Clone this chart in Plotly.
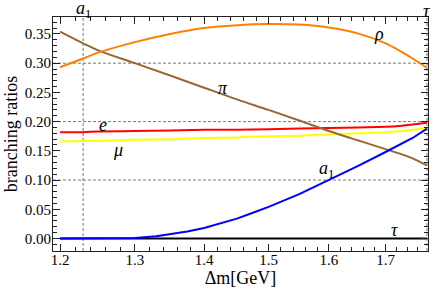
import math
import plotly.graph_objects as go

# Δm grid (GeV) and branching ratios
dm = [1.20, 1.23, 1.25, 1.30, 1.35, 1.40, 1.45, 1.50, 1.55, 1.60, 1.65, 1.70, 1.73, 1.75, 1.777]
br_rho = [0.293, 0.308, 0.318, 0.336, 0.350, 0.360, 0.365, 0.367, 0.366, 0.361, 0.351, 0.334, 0.319, 0.308, 0.292]
br_pi = [0.354, 0.334, 0.322, 0.300, 0.279, 0.258, 0.238, 0.220, 0.202, 0.184, 0.168, 0.153, 0.144, 0.137, 0.125]
br_e = [0.182, 0.182, 0.183, 0.184, 0.185, 0.186, 0.186, 0.187, 0.188, 0.189, 0.190, 0.191, 0.193, 0.195, 0.198]
br_mu = [0.166, 0.167, 0.167, 0.169, 0.170, 0.172, 0.173, 0.175, 0.176, 0.178, 0.180, 0.182, 0.184, 0.186, 0.190]
br_tau = [0.0] * len(dm)

dm_a1 = [1.20, 1.25, 1.28, 1.30, 1.33, 1.35, 1.375, 1.40, 1.425, 1.45, 1.475, 1.50, 1.55, 1.60, 1.65, 1.70, 1.73, 1.75, 1.777]
br_a1 = [0.0, 0.0, 0.0003, 0.001, 0.004, 0.0075, 0.012, 0.018, 0.026, 0.034, 0.044, 0.054, 0.076, 0.100, 0.124, 0.148, 0.162, 0.172, 0.188]

x_ticks = [1.2, 1.3, 1.4, 1.5, 1.6, 1.7]
x_tick_text = ["1.2", "1.3", "1.4", "1.5", "1.6", "1.7"]
x_minor = [round(1.2 + 0.02 * i, 2) for i in range(1, 30)]
y_ticks = [0.00, 0.05, 0.10, 0.15, 0.20, 0.25, 0.30, 0.35]
grid_y = [0.1, 0.2, 0.3]
grid_x = [1.23, 1.777]

# curve labels: (text, Δm, BR)
curve_labels = [
    ("<i>ρ</i>", 1.689, 0.350),
    ("<i>π</i>", 1.429, 0.258),
    ("<i>e</i>", 1.257, 0.195),
    ("<i>μ</i>", 1.277, 0.152),
    ("<i>a</i><sub>1</sub>", 1.596, 0.118),
    ("<i>τ</i>", 1.716, 0.0146),
]
top_labels = [("<i>a</i><sub>1</sub>", 1.23), ("<i>τ</i>", 1.777)]

x_lo, x_hi = 1.1910, 1.7790
y_lo, y_hi = -0.0214, 0.379

fig = go.Figure()

grid_style = dict(color="#555555", width=0.8, dash="3px,2px")
for gy in grid_y:
    fig.add_trace(go.Scatter(x=[x_lo, x_hi], y=[gy, gy], mode="lines",
                             line=grid_style, hoverinfo="skip", showlegend=False))
for gx in grid_x:
    fig.add_trace(go.Scatter(x=[gx, gx], y=[y_lo, y_hi], mode="lines",
                             line=grid_style, hoverinfo="skip", showlegend=False))

series = [
    (dm, br_tau, "#000000", 2.2, "linear"),
    (dm, br_e, "#FF0000", 2.0, "spline"),
    (dm, br_mu, "#FFFF00", 2.0, "spline"),
    (dm, br_pi, "#996633", 2.0, "spline"),
    (dm, br_rho, "#FF8000", 2.0, "spline"),
    (dm_a1, br_a1, "#0000FF", 2.0, "linear"),
]
for xs, ys, col, w, shp in series:
    fig.add_trace(go.Scatter(x=xs, y=ys, mode="lines",
                             line=dict(color=col, width=w, shape=shp),
                             showlegend=False))

lab_font = dict(family="Liberation Serif, serif", size=18, color="black")
for txt, xv, yv in curve_labels:
    fig.add_annotation(x=math.log10(xv), y=yv, text=txt, showarrow=False,
                       font=lab_font, xref="x", yref="y")
for txt, xv in top_labels:
    fig.add_annotation(x=math.log10(xv), y=1.0, yref="paper", xref="x", text=txt,
                       showarrow=False, yanchor="bottom", yshift=-6, xshift=0,
                       font=lab_font)

axis_font = dict(family="Liberation Serif, serif", size=15, color="black")
title_font = dict(family="Liberation Serif, serif", size=18, color="black")
fig.update_xaxes(
    type="log", range=[math.log10(x_lo), math.log10(x_hi)], automargin=False,
    tickmode="array", tickvals=x_ticks, ticktext=x_tick_text,
    ticks="inside", ticklen=7, tickwidth=1, tickcolor="#222",
    minor=dict(tickmode="array", tickvals=x_minor, ticks="inside", ticklen=4,
               tickwidth=1, tickcolor="#222", showgrid=False),
    showline=True, linecolor="#222", linewidth=1.2, mirror="ticks",
    showgrid=False, zeroline=False, tickfont=axis_font, ticklabelstandoff=-5,
    title=dict(text="Δm[GeV]", font=title_font, standoff=2),
)
fig.update_yaxes(
    range=[y_lo, y_hi], automargin=False,
    tickmode="array", tickvals=y_ticks, tickformat=".2f",
    ticks="inside", ticklen=7, tickwidth=1, tickcolor="#222",
    minor=dict(dtick=0.01, tick0=0, ticks="inside", ticklen=4, tickwidth=1,
               tickcolor="#222", showgrid=False),
    showline=True, linecolor="#222", linewidth=1.2, mirror="ticks",
    showgrid=False, zeroline=False, tickfont=axis_font, ticklabelstandoff=-2,
    title=dict(text="branching ratios", font=title_font, standoff=2),
)
fig.update_layout(
    width=432, height=291,
    margin=dict(l=53, r=4, t=17, b=40),
    paper_bgcolor="white", plot_bgcolor="white",
    showlegend=False,
)
fig.write_html("out.html", config={"displayModeBar": False},
               post_script="document.body.style.margin='0px';")
